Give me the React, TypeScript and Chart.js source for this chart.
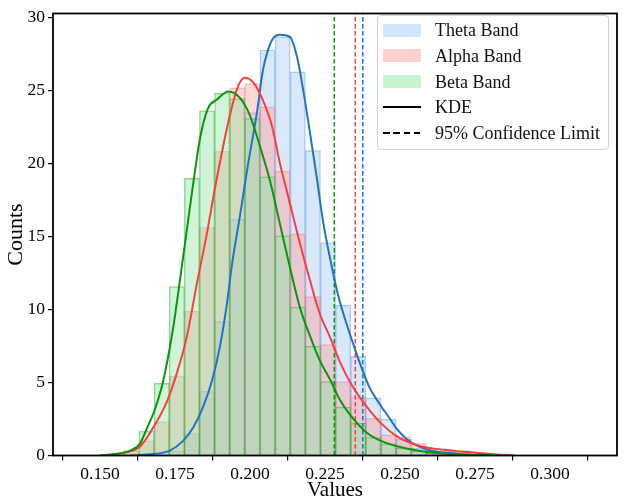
import { useEffect, useRef } from 'react'
import { Chart, registerables } from 'chart.js'

Chart.register(...registerables)

// histogram bins (shared by all three bands)
const BIN_CENTERS = [
  0.15544, 0.16048, 0.16552, 0.17056, 0.1756, 0.18064, 0.18568, 0.19072, 0.19576,
  0.2008, 0.20584, 0.21088, 0.21592, 0.22096, 0.226, 0.23104, 0.23608, 0.24112,
  0.24616, 0.2512, 0.25624, 0.26128, 0.26632, 0.27136, 0.2764, 0.28144,
]
const THETA_COUNTS = [
  0, 0, 0, 0.1, 0.3, 1.5, 4.4, 9.2, 16.2, 23.5, 27.8, 28.7, 26.3, 20.9, 14.6, 10.3,
  6.8, 3.95, 2.5, 1.1, 0.5, 0.2, 0.1, 0, 0, 0,
]
const ALPHA_COUNTS = [
  0, 0.2, 1.0, 2.3, 5.45, 9.9, 15.65, 20.85, 25.2, 25.5, 23.9, 19.5, 15.2, 10.9, 7.6,
  5.06, 4.0, 2.54, 1.42, 1.28, 0.83, 0.45, 0.34, 0.22, 0.22, 0.1,
]
const BETA_COUNTS = [
  0.1, 0.34, 1.66, 4.94, 11.58, 19.0, 23.63, 24.84, 24.45, 23.1, 19.1, 15.06, 10.18,
  7.48, 5.06, 3.3, 2.2, 1.23, 0.8, 0.5, 0.3, 0.15, 0.05, 0, 0, 0,
]

// KDE curves
const THETA_KDE_X = [
  0.16, 0.1677, 0.1733, 0.1777, 0.181, 0.1843, 0.1873, 0.19, 0.1923, 0.194, 0.1967,
  0.1993, 0.2023, 0.2043, 0.2057, 0.2077, 0.21, 0.2133, 0.2157, 0.2177, 0.22, 0.2223,
  0.2243, 0.2267, 0.229, 0.231, 0.2343, 0.2377, 0.24, 0.2433, 0.2467, 0.249, 0.2523,
  0.2557, 0.26, 0.265, 0.27, 0.2767, 0.2833,
]
const THETA_KDE_Y = [
  0, 0.1, 0.34, 1.0, 1.9, 3.3, 5.1, 7.5, 10.4, 13.1, 16.5, 19.9, 23.5, 26.4, 27.6, 28.6,
  28.85, 28.7, 27.3, 25.1, 22.1, 19.0, 16.1, 13.5, 11.3, 9.8, 7.7, 5.73, 4.6, 3.5, 2.5,
  1.8, 1.12, 0.67, 0.34, 0.2, 0.1, 0.03, 0,
]
const ALPHA_KDE_X = [
  0.1533, 0.1583, 0.1633, 0.1677, 0.1723, 0.1757, 0.179, 0.1823, 0.1857, 0.1883, 0.1927,
  0.196, 0.1983, 0.201, 0.204, 0.2073, 0.21, 0.2133, 0.2167, 0.22, 0.2233, 0.2267, 0.23,
  0.2337, 0.2387, 0.2437, 0.2487, 0.2537, 0.2587, 0.2637, 0.2687, 0.2737, 0.2787, 0.2833,
  0.2883,
]
const ALPHA_KDE_Y = [
  0.03, 0.2, 0.6, 1.9, 3.7, 5.7, 8.2, 11.8, 15.3, 18.3, 22.8, 25.3, 25.9, 25.6, 24.5, 22.6,
  20.0, 17.3, 14.5, 12.0, 9.7, 8.1, 6.4, 4.9, 3.4, 2.2, 1.35, 0.85, 0.55, 0.42, 0.3, 0.22,
  0.12, 0.05, 0,
]
const BETA_KDE_X = [
  0.15, 0.155, 0.16, 0.1633, 0.1657, 0.168, 0.171, 0.1743, 0.1777, 0.1807, 0.1833, 0.186,
  0.189, 0.1927, 0.1967, 0.2, 0.2033, 0.2067, 0.21, 0.2133, 0.2167, 0.22, 0.2233, 0.2267,
  0.23, 0.2333, 0.2387, 0.2437, 0.2487, 0.2543, 0.26, 0.2667, 0.2767, 0.2833,
]
const BETA_KDE_Y = [
  0.02, 0.1, 0.34, 0.8, 1.9, 3.0, 5.06, 8.65, 13.6, 18.1, 21.7, 23.8, 24.4, 24.95, 24.5,
  23.3, 21.2, 18.8, 15.85, 12.9, 10.1, 8.2, 6.5, 5.2, 3.8, 2.8, 1.6, 1.0, 0.65, 0.4, 0.22,
  0.1, 0.03, 0,
]

// 95% confidence limits
const THETA_LIMIT = 0.2376
const ALPHA_LIMIT = 0.2351
const BETA_LIMIT = 0.2281

const X_MIN = 0.13433
const X_MAX = 0.32233
const Y_MAX = 30.3

const SERIF = "'Liberation Serif', 'Times New Roman', serif"

// pastel fills, see-through
const BANDS = [
  { label: 'Theta Band', fill: 'rgba(161,201,244,0.42)', edge: 'rgba(70,140,215,0.45)', line: '#1f74c6', patch: '#d0e4fa' },
  { label: 'Alpha Band', fill: 'rgba(255,159,155,0.42)', edge: 'rgba(235,90,90,0.35)', line: '#ff3b3b', patch: '#ffcfcd' },
  { label: 'Beta Band', fill: 'rgba(141,229,161,0.42)', edge: 'rgba(40,165,40,0.5)', line: '#0a960a', patch: '#c6f2d0' },
]

const framePlugin = {
  id: 'frame',
  afterDraw(chart: Chart) {
    const { ctx, chartArea: a } = chart
    ctx.save()
    ctx.strokeStyle = '#000'
    ctx.lineWidth = 1.8
    ctx.strokeRect(a.left, a.top, a.right - a.left, a.bottom - a.top)
    ctx.restore()
  },
}

const bars = (counts: number[]) =>
  BIN_CENTERS.map((x, i) => ({ x, y: counts[i] > 0 ? counts[i] : null }))
const curve = (xs: number[], ys: number[]) => xs.map((x, i) => ({ x, y: ys[i] }))
const vline = (x: number) => [
  { x, y: 0 },
  { x, y: Y_MAX },
]

export default function App() {
  const chartRef = useRef<HTMLCanvasElement>(null)
  const chartInstanceRef = useRef<Chart | null>(null)

  useEffect(() => {
    if (!chartRef.current) return
    if (chartInstanceRef.current) chartInstanceRef.current.destroy()

    Chart.defaults.font.family = SERIF
    Chart.defaults.color = '#000'

    const counts = [THETA_COUNTS, ALPHA_COUNTS, BETA_COUNTS]
    const kdes = [
      curve(THETA_KDE_X, THETA_KDE_Y),
      curve(ALPHA_KDE_X, ALPHA_KDE_Y),
      curve(BETA_KDE_X, BETA_KDE_Y),
    ]
    const limits = [THETA_LIMIT, ALPHA_LIMIT, BETA_LIMIT]

    const barSets = BANDS.map((b, i) => ({
      type: 'bar' as const,
      label: b.label,
      data: bars(counts[i]),
      backgroundColor: b.fill,
      borderColor: b.edge,
      borderWidth: 0.8,
      grouped: false,
      barPercentage: 1,
      categoryPercentage: 1,
      order: 6 - i,
    }))
    const kdeSets = BANDS.map((b, i) => ({
      type: 'line' as const,
      label: b.label + ' KDE',
      data: kdes[i],
      borderColor: b.line,
      borderWidth: 2,
      pointRadius: 0,
      cubicInterpolationMode: 'monotone' as const,
      fill: false,
      order: 2 - i,
    }))
    const limitSets = BANDS.map((b, i) => ({
      type: 'line' as const,
      label: b.label + ' limit',
      data: vline(limits[i]),
      borderColor: b.line,
      borderWidth: 1.5,
      borderDash: [4.5, 2.5],
      pointRadius: 0,
      fill: false,
      order: 3,
    }))

    chartInstanceRef.current = new Chart(chartRef.current, {
      type: 'bar',
      data: { datasets: [...barSets, ...kdeSets, ...limitSets] as any },
      options: {
        animation: false,
        responsive: false,
        layout: { padding: { top: 6, right: 7, left: 0, bottom: 0 } },
        plugins: {
          legend: { display: false },
          tooltip: { enabled: false },
        },
        scales: {
          x: {
            type: 'linear',
            min: X_MIN,
            max: X_MAX,
            offset: false,
            afterFit: (s: any) => {
              s.height = 48.5
            },
            border: { display: false },
            grid: {
              display: true,
              drawOnChartArea: false,
              drawTicks: true,
              tickLength: 5,
              color: '#000',
              lineWidth: 1.2,
            },
            ticks: {
              stepSize: 0.025,
              includeBounds: false,
              padding: 3,
              color: '#000',
              font: { family: SERIF, size: 17.5 },
              callback: (v: any) => Number(v).toFixed(3),
              maxRotation: 0,
            },
            title: {
              display: true,
              text: 'Values',
              color: '#000',
              font: { family: SERIF, size: 21 },
              padding: { top: 0, bottom: 1 },
            },
          },
          y: {
            type: 'linear',
            min: 0,
            max: Y_MAX,
            afterFit: (s: any) => {
              s.width = 53
            },
            border: { display: false },
            grid: {
              display: true,
              drawOnChartArea: false,
              drawTicks: true,
              tickLength: 5,
              color: '#000',
              lineWidth: 1.2,
            },
            ticks: {
              stepSize: 5,
              includeBounds: false,
              padding: 3,
              color: '#000',
              font: { family: SERIF, size: 17.5 },
            },
            title: {
              display: true,
              text: 'Counts',
              color: '#000',
              font: { family: SERIF, size: 22 },
              padding: { top: 3, bottom: 0 },
            },
          },
        },
      },
      plugins: [framePlugin],
    })

    return () => {
      if (chartInstanceRef.current) {
        chartInstanceRef.current.destroy()
        chartInstanceRef.current = null
      }
    }
  }, [])

  const rowTop = [30, 55.8, 81.6, 107.4, 133.2]

  return (
    <div
      style={{
        position: 'fixed',
        left: 0,
        top: 0,
        width: 624,
        height: 504,
        background: '#fff',
        fontFamily: SERIF,
      }}
    >
      <canvas ref={chartRef} width={624} height={504} style={{ width: 624, height: 504 }} />

      {/* Legend inside the plot, upper right */}
      <div
        style={{
          position: 'absolute',
          left: 377,
          top: 15,
          width: 232,
          height: 135,
          border: '1px solid #d2d2d2',
          borderRadius: 4,
          background: 'rgba(255,255,255,0.85)',
          boxSizing: 'border-box',
        }}
      />
      {BANDS.map((b, i) => (
        <div key={b.label}>
          <div
            style={{
              position: 'absolute',
              left: 383,
              top: rowTop[i] - 6.5,
              width: 37.5,
              height: 13,
              background: b.patch,
            }}
          />
          <div
            style={{
              position: 'absolute',
              left: 435,
              top: rowTop[i] - 11,
              fontSize: 18,
              lineHeight: '22px',
              color: '#111',
              whiteSpace: 'nowrap',
            }}
          >
            {b.label}
          </div>
        </div>
      ))}
      <div
        style={{
          position: 'absolute',
          left: 383,
          top: rowTop[3] - 1,
          width: 37.5,
          borderTop: '2px solid #000',
        }}
      />
      <div
        style={{
          position: 'absolute',
          left: 435,
          top: rowTop[3] - 11,
          fontSize: 18,
          lineHeight: '22px',
          color: '#111',
        }}
      >
        KDE
      </div>
      <div
        style={{
          position: 'absolute',
          left: 383,
          top: rowTop[4] - 1,
          width: 37.5,
          height: 2,
          background: 'repeating-linear-gradient(to right, #000 0 6.5px, transparent 6.5px 10.3px)',
        }}
      />
      <div
        style={{
          position: 'absolute',
          left: 435,
          top: rowTop[4] - 11,
          fontSize: 18,
          lineHeight: '22px',
          color: '#111',
          whiteSpace: 'nowrap',
        }}
      >
        95% Confidence Limit
      </div>
    </div>
  )
}
